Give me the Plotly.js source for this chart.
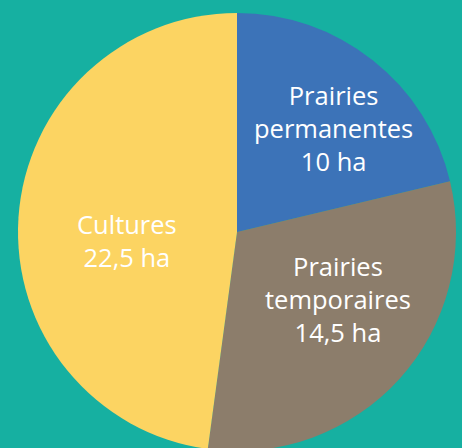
<!DOCTYPE html>
<html>
<head>
<meta charset="utf-8">
<script src="https://cdn.plot.ly/plotly-3.0.1.min.js"></script>
<style>
html,body{margin:0;padding:0;overflow:hidden;background:#16B0A1;}
#chart{width:462px;height:460px;}
</style>
</head>
<body>
<div id="chart"></div>
<script>
const labels = ["Prairies<br>permanentes", "Prairies<br>temporaires", "Cultures"];
const values = [10, 14.5, 22.5];
const colors = ["#3C73B8", "#8C7D6B", "#FCD462"];
const unit = "ha";

// label positions (paper coords) — layout only
const labelPos = [[0.7229, 0.7217], [0.7316, 0.35], [0.2749, 0.4761]];

function fmt(v){ return String(v).replace('.', ',') + ' ' + unit; }

const data = [{
  type: 'pie',
  labels: labels,
  values: values,
  sort: false,
  direction: 'clockwise',
  rotation: 0,
  marker: {colors: colors, line: {width: 0}},
  textinfo: 'none',
  hoverinfo: 'label+value',
  showlegend: false,
  domain: {x: [18/462, 456/462], y: [9/460, 447/460]}
}];

const annotations = labels.map((l, i) => ({
  xref: 'paper', yref: 'paper',
  x: labelPos[i][0], y: labelPos[i][1],
  xanchor: 'center', yanchor: 'middle',
  text: l + '<br>' + fmt(values[i]),
  showarrow: false,
  align: 'center',
  font: {family: '"Open Sans", sans-serif', size: 25.5, color: '#ffffff'}
}));

const layout = {
  width: 462, height: 460,
  margin: {l: 0, r: 0, t: 0, b: 0},
  paper_bgcolor: '#16B0A1',
  plot_bgcolor: '#16B0A1',
  annotations: annotations
};

Plotly.newPlot('chart', data, layout, {displayModeBar: false, staticPlot: true});
</script>
</body>
</html>
